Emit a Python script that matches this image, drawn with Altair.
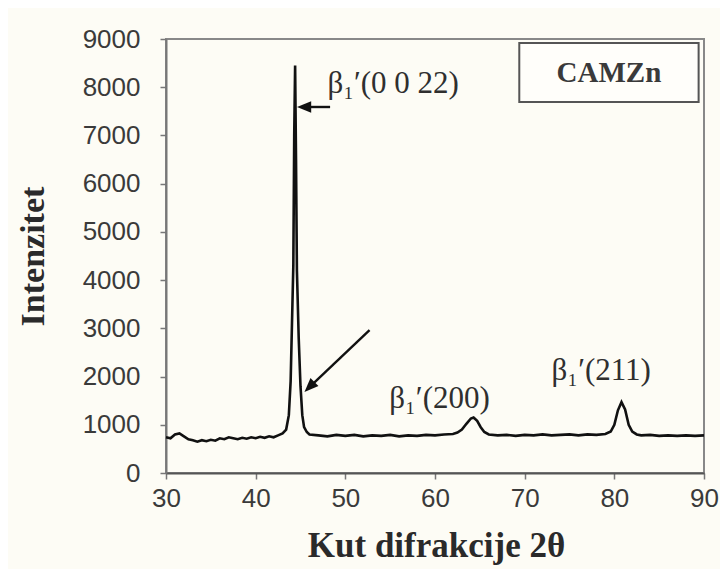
import altair as alt
import pandas as pd

# XRD curve (2theta, intensity)
two_theta = [30.0, 30.5, 31.0, 31.5, 32.0, 32.5, 33.0, 33.5, 34.0, 34.5, 35.0, 35.5,
             36.0, 36.5, 37.0, 37.5, 38.0, 38.5, 39.0, 39.5, 40.0, 40.5, 41.0, 41.5,
             42.0, 42.5, 43.0, 43.4, 43.7, 43.9, 44.1, 44.2, 44.3, 44.4, 44.5, 44.6,
             44.8, 45.0, 45.2, 45.4, 45.7, 46.0, 47.0, 48.0, 49.0, 50.0, 51.0, 52.0,
             53.0, 54.0, 55.0, 56.0, 57.0, 58.0, 59.0, 60.0, 61.0, 62.0, 62.5, 63.0,
             63.5, 64.0, 64.3, 64.7, 65.1, 65.5, 66.0, 67.0, 68.0, 69.0, 70.0, 71.0,
             72.0, 73.0, 74.0, 75.0, 76.0, 77.0, 78.0, 79.0, 79.6, 80.0, 80.4, 80.8,
             81.2, 81.6, 82.0, 82.5, 83.0, 84.0, 85.0, 86.0, 87.0, 88.0, 89.0, 90.0]
intensity = [740, 720, 800, 820, 760, 700, 680, 650, 680, 660, 690, 670,
             720, 700, 740, 720, 700, 730, 710, 740, 720, 750, 730, 760,
             740, 780, 820, 900, 1200, 1900, 3500, 4300, 7000, 8450, 6500, 4200,
             2800, 1800, 1200, 950, 850, 800, 780, 760, 790, 770, 790, 760,
             780, 770, 790, 760, 780, 770, 790, 780, 800, 810, 840, 900,
             1020, 1130, 1150, 1080, 950, 850, 800, 780, 790, 770, 790, 780,
             800, 780, 790, 800, 780, 800, 790, 810, 860, 1000, 1300, 1470,
             1320, 1000, 860, 800, 780, 790, 770, 780, 770, 780, 770, 780]

# annotations
label_texts = ["β₁′(0 0 22)", "β₁′(200)", "β₁′(211)"]
label_x = [48.0, 54.9, 73.0]
label_y = [7880, 1348, 1929]

arrow_x1 = [48.3, 52.7]
arrow_y1 = [7590, 2965]
arrow_x2 = [45.4, 46.0]
arrow_y2 = [7590, 1783]
arrow_angle = [270, 225]

box_text = ["CAMZn"]
box_x = [69.4]
box_x2 = [89.4]
box_y = [7693]
box_y2 = [8917]
box_tx = [79.4]
box_ty = [8300]

curve = pd.DataFrame({"x": two_theta, "y": intensity})
labels = pd.DataFrame({"t": label_texts, "x": label_x, "y": label_y})
arrows = pd.DataFrame({"x": arrow_x1, "y": arrow_y1, "x2": arrow_x2, "y2": arrow_y2,
                       "a": arrow_angle})
box = pd.DataFrame({"t": box_text, "x": box_x, "x2": box_x2, "y": box_y, "y2": box_y2,
                    "tx": box_tx, "ty": box_ty})

xs = alt.Scale(domain=[30, 90], nice=False, zero=False)
ys = alt.Scale(domain=[0, 9000], nice=False)

xaxis = alt.Axis(values=[30, 40, 50, 60, 70, 80, 90], title="Kut difrakcije 2θ",
                 grid=False, tickSize=6, labelPadding=6, labelFontSize=26, labelFlush=False,
                 labelFont="Liberation Sans", labelColor="#3a3a3a",
                 titleFont="Liberation Serif", titleFontSize=35, titleFontWeight="bold",
                 titleColor="#2a2a2a", titleX=270, titleY=83, titleAlign="center",
                 titleBaseline="alphabetic", domainColor="#555555", domainWidth=2,
                 tickColor="#777777", tickWidth=1.5)
yaxis = alt.Axis(values=list(range(0, 9001, 1000)), format="d", title="Intenzitet",
                 grid=False, tickSize=6, labelPadding=20, labelFontSize=26,
                 labelFont="Liberation Sans", labelColor="#3a3a3a",
                 titleFont="Liberation Serif", titleFontSize=34, titleFontWeight="bold",
                 titleColor="#2a2a2a", titleX=-123, titleY=217, titleAngle=-90,
                 titleAlign="center", titleBaseline="alphabetic",
                 domainColor="#777777", domainWidth=2, tickColor="#777777", tickWidth=1.5)

base_line = alt.Chart(curve).mark_line(color="#111111", strokeWidth=2.6).encode(
    x=alt.X("x:Q", scale=xs, axis=xaxis),
    y=alt.Y("y:Q", scale=ys, axis=yaxis),
)

rect = alt.Chart(box).mark_rect(fill="#fffefa", stroke="#555555", strokeWidth=2).encode(
    x=alt.X("x:Q", scale=xs), x2="x2:Q", y=alt.Y("y:Q", scale=ys), y2="y2:Q")
rect_text = alt.Chart(box).mark_text(font="Liberation Serif", fontSize=29, fontWeight="bold",
                                     color="#3a3a3a", baseline="middle", align="center").encode(
    x=alt.X("tx:Q", scale=xs), y=alt.Y("ty:Q", scale=ys), text="t:N")

peak_text = alt.Chart(labels).mark_text(font="Liberation Serif", fontSize=31,
                                        color="#2f2f2f", align="left",
                                        baseline="alphabetic").encode(
    x=alt.X("x:Q", scale=xs), y=alt.Y("y:Q", scale=ys), text="t:N")

arrow_lines = alt.Chart(arrows).mark_rule(color="#111111", strokeWidth=2.4).encode(
    x=alt.X("x:Q", scale=xs), y=alt.Y("y:Q", scale=ys), x2="x2:Q", y2="y2:Q")
arrow_heads = alt.Chart(arrows).mark_point(
    shape="M0,-1L-0.8,1L0.8,1Z", filled=True, color="#111111", size=200, opacity=1
).encode(x=alt.X("x2:Q", scale=xs), y=alt.Y("y2:Q", scale=ys),
         angle=alt.Angle("a:Q", scale=None))

chart = alt.layer(rect, rect_text, base_line, arrow_lines, arrow_heads, peak_text).properties(
    width=538, height=434,
    autosize=alt.AutoSizeParams(type="none"),
    padding={"left": 158, "top": 31, "right": 16, "bottom": 96},
    background="#fdfcf5",
).configure_view(stroke="#888888", strokeWidth=2)

chart.save("out.html", embed_options={"renderer": "svg", "actions": False})
